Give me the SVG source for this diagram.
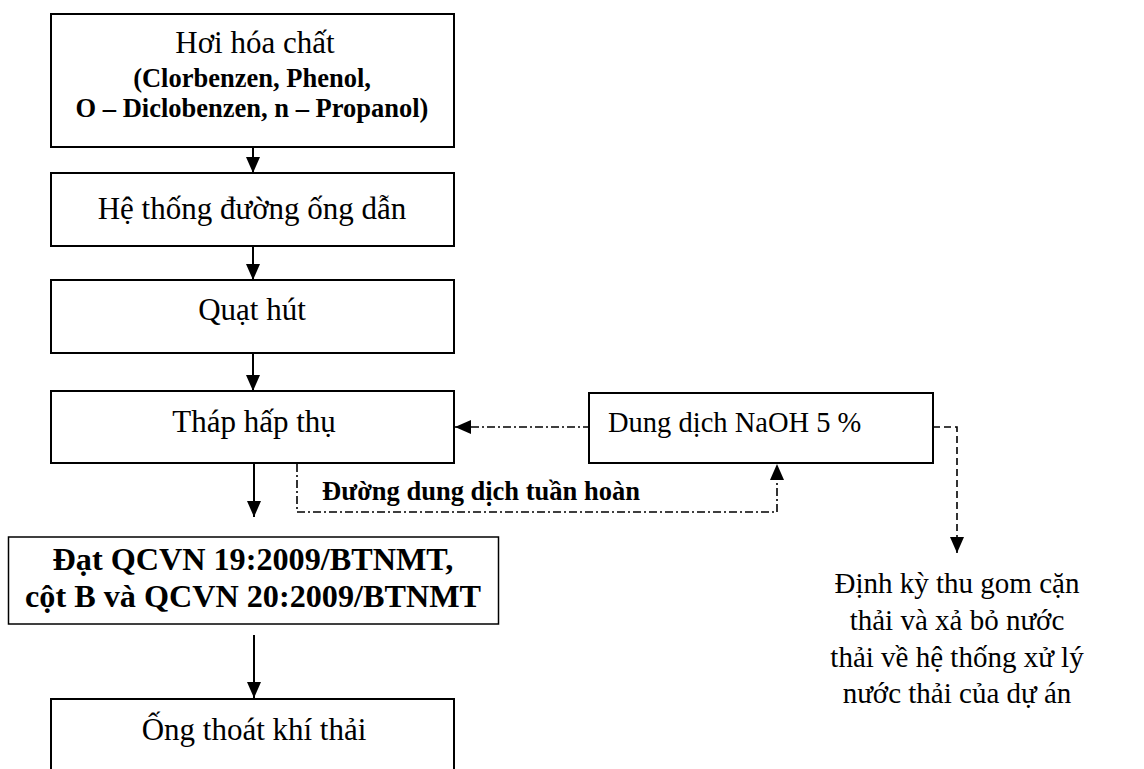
<svg xmlns="http://www.w3.org/2000/svg" width="1144" height="769" viewBox="0 0 1144 769">
<style>
.box{fill:#fff;stroke:#000;stroke-width:2}
.t{font-family:"Liberation Serif","Times New Roman",serif;font-size:31px;fill:#000;text-anchor:middle}
.b{font-family:"Liberation Serif","Times New Roman",serif;font-weight:bold;fill:#000;text-anchor:middle}
.c{fill:none;stroke:#000;stroke-width:2}
.dd{fill:none;stroke:#000;stroke-width:1.6;stroke-dasharray:8 3 2 3}
.ds{fill:none;stroke:#000;stroke-width:1.6;stroke-dasharray:7 4}
</style>
<defs>
<marker id="ah" markerUnits="userSpaceOnUse" markerWidth="16" markerHeight="16" viewBox="0 0 16 14" refX="16" refY="7" orient="auto">
<path d="M0,0 L16,7 L0,14 Z" fill="#000"/>
</marker>
</defs>
<rect width="1144" height="769" fill="#fff"/>
<g id="connectors">
<path class="c" d="M253,147 V173" marker-end="url(#ah)"/>
<path class="c" d="M253,246 V280" marker-end="url(#ah)"/>
<path class="c" d="M253,353 V391" marker-end="url(#ah)"/>
<path class="c" d="M254,464 V517" marker-end="url(#ah)"/>
<path class="c" d="M254,635 V698" marker-end="url(#ah)"/>
<path class="dd" d="M591,427 H455" marker-end="url(#ah)"/>
<path class="dd" d="M297,464 V512 H777 V464" marker-end="url(#ah)"/>
<path class="ds" d="M933,427 H957 V553" marker-end="url(#ah)"/>
<text class="b" x="481" y="500" font-size="26.5">Đường dung dịch tuần hoàn</text>
</g>
<g id="n1">
<rect class="box" x="51" y="14" width="403" height="133"/>
<text class="t" x="255" y="53">Hơi hóa chất</text>
<text class="b" x="252" y="87" font-size="26.5">(Clorbenzen, Phenol,</text>
<text class="b" x="252" y="117" font-size="26.5">O – Diclobenzen, n – Propanol)</text>
</g>
<g id="n2">
<rect class="box" x="51" y="173" width="403" height="73"/>
<text class="t" x="252" y="219">Hệ thống đường ống dẫn</text>
</g>
<g id="n3">
<rect class="box" x="51" y="280" width="403" height="73"/>
<text class="t" x="252" y="320">Quạt hút</text>
</g>
<g id="n4">
<rect class="box" x="51" y="391" width="403" height="72"/>
<text class="t" x="254" y="432">Tháp hấp thụ</text>
</g>
<g id="n5">
<rect class="box" x="8.5" y="537" width="490" height="87" style="stroke-width:1.5"/>
<text class="b" x="253" y="570" font-size="32.2">Đạt QCVN 19:2009/BTNMT,</text>
<text class="b" x="253" y="607" font-size="32.2">cột B và QCVN 20:2009/BTNMT</text>
</g>
<g id="n6">
<rect class="box" x="51" y="699" width="403" height="90"/>
<text class="t" x="254" y="740">Ống thoát khí thải</text>
</g>
<g id="n7">
<rect class="box" x="589" y="393" width="344" height="70"/>
<text class="t" x="608" y="432" style="text-anchor:start;font-size:28.5px">Dung dịch NaOH 5 %</text>
</g>
<g id="n8">
<text class="t" x="957" y="593" style="font-size:29px">Định kỳ thu gom cặn</text>
<text class="t" x="957" y="630" style="font-size:29px">thải và xả bỏ nước</text>
<text class="t" x="957" y="667" style="font-size:29px">thải về hệ thống xử lý</text>
<text class="t" x="957" y="703" style="font-size:29px">nước thải của dự án</text>
</g>
</svg>
